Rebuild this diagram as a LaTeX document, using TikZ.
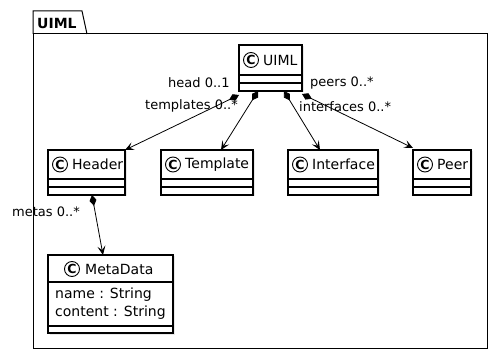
\documentclass[tikz,border=0pt]{standalone}
\usepackage{fontspec}
\setmainfont{DejaVu Sans}
\usetikzlibrary{arrows.meta,calc,shadows}

\begin{document}
\begin{tikzpicture}[x=1pt,y=-1pt,
  pkgline/.style={draw=black, line width=1pt},
  pkgtitle/.style={font=\fontsize{14}{16}\selectfont\bfseries, inner sep=0pt, anchor=west},
  classbox/.style={draw=black, line width=1.2pt, fill=white, inner sep=0pt, outer sep=0pt, anchor=north west,
    drop shadow={opacity=0.18, shadow xshift=1.5pt, shadow yshift=-1.5pt}},
  sepline/.style={draw=black, line width=1.2pt},
  cmark/.style={circle, draw=black, line width=0.9pt, fill=white, minimum size=15pt, inner sep=0pt,
    font=\fontsize{12.5}{12.5}\selectfont\bfseries},
  cname/.style={font=\fontsize{14}{16}\selectfont, inner sep=0pt, anchor=west},
  attr/.style={font=\fontsize{14}{16}\selectfont, inner sep=0pt, anchor=west},
  lbl/.style={font=\fontsize{13}{15}\selectfont, inner sep=0pt, anchor=west},
  comp/.style={draw=black, line width=0.8pt,
    {Diamond[length=11pt,width=7pt]}-{Stealth[length=9pt,width=8pt,inset=4pt]}}
]
\useasboundingbox (0,0) rectangle (503,355);

% package frame with its tab
\draw[pkgline] (33,34) -- (33,11) -- (82,11) -- (87,34);
\draw[pkgline] (33,34) rectangle (487,348);
\node[pkgtitle] (pkgtitle) at (37,23) {UIML};

% UIML class
\node[classbox, minimum width=63pt, minimum height=46pt] (uiml) at (239,45) {};
\draw[sepline] (239,75) -- (302,75);
\draw[sepline] (239,83) -- (302,83);
\node[cmark] (uiml-c) at (251,60) {C};
\node[cname] (uiml-n) at (263,60) {UIML};

% second row of classes
\node[classbox, minimum width=77pt, minimum height=45pt] (header) at (48,150) {};
\draw[sepline] (48,179) -- (125,179);
\draw[sepline] (48,187) -- (125,187);
\node[cmark] (header-c) at (60,164.5) {C};
\node[cname] (header-n) at (72,164.5) {Header};

\node[classbox, minimum width=92pt, minimum height=45pt] (template) at (161,150) {};
\draw[sepline] (161,179) -- (253,179);
\draw[sepline] (161,187) -- (253,187);
\node[cmark] (template-c) at (173,164.5) {C};
\node[cname] (template-n) at (185,164.5) {Template};

\node[classbox, minimum width=90pt, minimum height=45pt] (interface) at (288,150) {};
\draw[sepline] (288,179) -- (378,179);
\draw[sepline] (288,187) -- (378,187);
\node[cmark] (interface-c) at (300,164.5) {C};
\node[cname] (interface-n) at (312,164.5) {Interface};

\node[classbox, minimum width=58pt, minimum height=45pt] (peer) at (413,150) {};
\draw[sepline] (413,179) -- (471,179);
\draw[sepline] (413,187) -- (471,187);
\node[cmark] (peer-c) at (425,164.5) {C};
\node[cname] (peer-n) at (437,164.5) {Peer};

% MetaData class with attributes
\node[classbox, minimum width=125pt, minimum height=78pt] (meta) at (48,255) {};
\draw[sepline] (48,282) -- (173,282);
\draw[sepline] (48,326) -- (173,326);
\node[cmark] (meta-c) at (72,269) {C};
\node[cname] (meta-n) at (85,269) {MetaData};
\node[attr] (meta-a1) at (55,295) {name : String};
\node[attr] (meta-a2) at (55,313) {content : String};

% compositions
\draw[comp] ([shift={(0,4)}]uiml.south west) -- (header.north east);
\draw[comp] ([shift={(19,0)}]uiml.south west) -- ([shift={(14,0)}]template.north);
\draw[comp] ([shift={(45,0)}]uiml.south west) -- ([shift={(-13,0)}]interface.north);
\draw[comp] ([shift={(0,3)}]uiml.south east) -- ([shift={(0,-2)}]peer.north west);
\draw[comp] ([shift={(5.5,0)}]header.south) -- ([shift={(-7.5,0)}]meta.north);

% role labels
\node[lbl] (lbl-head) at (168,83) {head 0..1};
\node[lbl] (lbl-templates) at (145,106) {templates 0..*};
\node[lbl] (lbl-peers) at (310,83) {peers 0..*};
\node[lbl] (lbl-interfaces) at (299,107) {interfaces 0..*};
\node[lbl] (lbl-metas) at (12,212) {metas 0..*};
\end{tikzpicture}
\end{document}
